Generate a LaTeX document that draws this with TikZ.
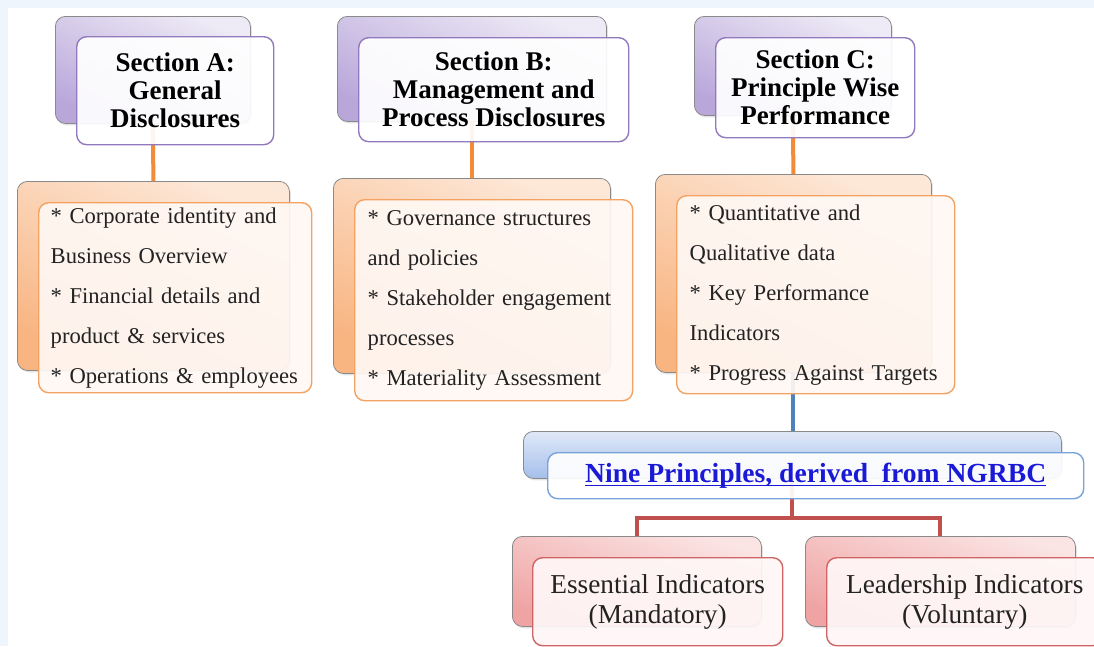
\documentclass[tikz,border=0pt]{standalone}
\usepackage{fontspec}
\setmainfont{Liberation Serif}
\usetikzlibrary{shadows}

\definecolor{framebg}{HTML}{EEF5FC}
\definecolor{backedge}{HTML}{8A8A8A}
\definecolor{bodytext}{HTML}{222222}
% purple headings
\definecolor{pTop}{HTML}{EEEAF6}
\definecolor{pBot}{HTML}{B9A7DA}
\definecolor{pEdge}{HTML}{9279BE}
% orange detail boxes
\definecolor{oTop}{HTML}{FDE8D8}
\definecolor{oBot}{HTML}{F8B481}
\definecolor{oEdge}{HTML}{F4A262}
\definecolor{oFill}{HTML}{FFF8F4}
\definecolor{oLine}{HTML}{F28C38}
% blue principles box
\definecolor{bTop}{HTML}{DFE8F8}
\definecolor{bBot}{HTML}{A5BFEB}
\definecolor{bEdge}{HTML}{78A2DA}
\definecolor{bLine}{HTML}{4F81BD}
\definecolor{linkblue}{HTML}{1A1AD6}
% red indicator boxes
\definecolor{rTop}{HTML}{FBE4E4}
\definecolor{rBot}{HTML}{EFA3A3}
\definecolor{rEdge}{HTML}{D06464}
\definecolor{rFill}{HTML}{FFF7F7}
\definecolor{rLine}{HTML}{C0504D}

% thick underline for the principles link
\newcommand\ulnine[1]{\setbox0=\hbox{#1}\rlap{\rule[-4pt]{\wd0}{1.8pt}}\box0}

\begin{document}
\begin{tikzpicture}[x=1pt,y=-1pt,
  backbox/.style={draw=backedge, line width=0.8pt, rounded corners=10pt,
    anchor=north west, inner sep=0pt,
    drop shadow={shadow xshift=1.5pt, shadow yshift=-2pt, opacity=0.22}},
  purpleback/.style={backbox, top color=pTop, bottom color=pBot, shading angle=-25},
  orangeback/.style={backbox, top color=oTop, bottom color=oBot, shading angle=-25},
  blueback/.style={backbox, top color=bTop, bottom color=bBot},
  redback/.style={backbox, top color=rTop, bottom color=rBot, shading angle=-20},
  frontbox/.style={rounded corners=10pt, anchor=north west, line width=1.4pt,
    fill opacity=0.92, text opacity=1},
  headbox/.style={frontbox, draw=pEdge, fill=white, align=center,
    font=\bfseries\fontsize{27}{28}\selectfont, text=black},
  listbox/.style={frontbox, draw=oEdge, fill=oFill, align=left,
    inner xsep=13pt, font=\fontsize{22.6}{40}\selectfont, text=bodytext},
  indbox/.style={frontbox, draw=rEdge, fill=rFill, align=center,
    font=\fontsize{27.3}{30}\selectfont, text=bodytext},
  link/.style={line width=4pt}
]
\useasboundingbox (0,0) rectangle (1094,646);
\fill[white] (0,0) rectangle (1094,646);
\fill[framebg] (0,0) rectangle (1094,8);
\fill[framebg] (0,0) rectangle (8,646);

% ---- back plates ----
\node[purpleback, minimum width=195, minimum height=107] (aback) at (55,16) {};
\node[purpleback, minimum width=269, minimum height=105] (bback) at (337,16) {};
\node[purpleback, minimum width=197, minimum height=99]  (cback) at (694,16) {};

\node[orangeback, minimum width=272, minimum height=189] (aoback) at (17,181) {};
\node[orangeback, minimum width=277, minimum height=195] (boback) at (333,178) {};
\node[orangeback, minimum width=276, minimum height=198] (coback) at (655,174) {};

\node[blueback, minimum width=538, minimum height=47] (nback) at (523,431) {};

\node[redback, minimum width=249, minimum height=90] (eback) at (512,536) {};
\node[redback, minimum width=270, minimum height=90] (lback) at (805,536) {};

% ---- connectors ----
\draw[link, oLine] (aback.south) -- (aoback.north);
\draw[link, oLine] (bback.south) -- (boback.north);
\draw[link, oLine] (cback.south) -- (coback.north);
\draw[link, bLine] (coback.south) -- (coback.south |- nback.north);
\draw[link, rLine] (nback.south) -- ++(0,39) -| (eback.north);
\draw[link, rLine] (nback.south) -- ++(0,39) -| (lback.north);

% ---- front plates ----
\node[headbox, minimum width=197, minimum height=108] (afront) at (76,36)
  {Section A:\\General\\Disclosures};
\node[headbox, minimum width=270, minimum height=104] (bfront) at (358,37)
  {Section B:\\Management and\\Process Disclosures};
\node[headbox, minimum width=199, minimum height=100] (cfront) at (715,37)
  {Section C:\\Principle Wise\\Performance};

\node[listbox, text width=249, minimum height=190, inner xsep=12pt] (aofront) at (38,202)
  {\mbox{* Corporate identity and}\\\mbox{Business Overview}\\\mbox{* Financial details and}\\\mbox{product \& services}\\\mbox{* Operations \& employees}};
\node[listbox, text width=252, minimum height=201] (bofront) at (354,199)
  {\mbox{* Governance structures}\\\mbox{and policies}\\\mbox{* Stakeholder engagement}\\\mbox{processes}\\\mbox{* Materiality Assessment}};
\node[listbox, text width=252, minimum height=198] (cofront) at (676,195)
  {\mbox{* Quantitative and}\\\mbox{Qualitative data}\\\mbox{* Key Performance}\\\mbox{Indicators}\\\mbox{* Progress Against Targets}};

\node[frontbox, draw=bEdge, fill=white, minimum width=536, minimum height=46,
  font=\bfseries\fontsize{27.6}{30}\selectfont, text=linkblue] (nfront) at (547,452)
  {\ulnine{Nine Principles, derived\ \ from NGRBC}};

\node[indbox, minimum width=250, minimum height=88] (efront) at (532,557)
  {Essential Indicators\\(Mandatory)};
\node[indbox, minimum width=276, minimum height=88] (lfront) at (826,557)
  {Leadership Indicators\\(Voluntary)};
\end{tikzpicture}
\end{document}
